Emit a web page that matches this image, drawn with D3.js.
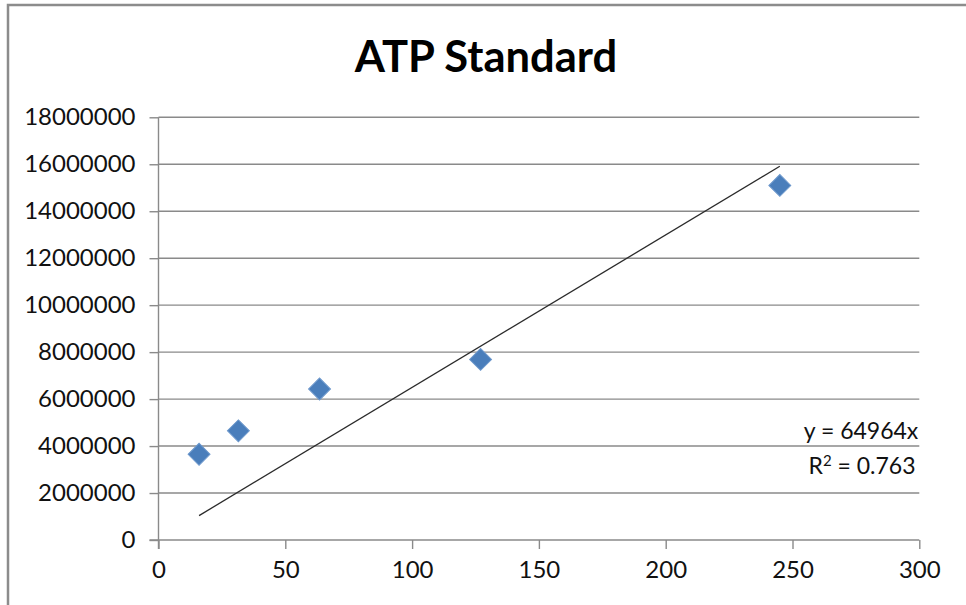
<!DOCTYPE html>
<html>
<head>
<meta charset="utf-8">
<script src="https://cdn.jsdelivr.net/npm/d3@7"></script>
<style>
  html, body { margin: 0; padding: 0; background: #fff; }
  svg { display: block; }
</style>
</head>
<body>
<svg id="chart" width="966" height="605"></svg>
<script>
// ATP standard curve: concentration vs. luminescence signal
const concentrations = [16, 31.5, 63.5, 127, 245];
const signals = [3650000, 4650000, 6430000, 7690000, 15100000];
const xTicks = [0, 50, 100, 150, 200, 250, 300];
const yTicks = [0, 2000000, 4000000, 6000000, 8000000, 10000000, 12000000, 14000000, 16000000, 18000000];
const trendSlope = 64964;
const trendR2 = "0.763";
const chartTitle = "ATP Standard";

const svg = d3.select("#chart");
const W = 966, H = 605;
const margin = { left: 158.5, right: W - 919.3, top: 117.3, bottom: H - 540 };

const x = d3.scaleLinear().domain([0, 300]).range([margin.left, W - margin.right]);
const y = d3.scaleLinear().domain([0, 18000000]).range([H - margin.bottom, margin.top]);

const gridColor = "#8a8a8a";
const font = "Lato, 'Open Sans', sans-serif";

// chart frame
svg.append("rect")
  .attr("x", 8).attr("y", 5)
  .attr("width", W + 20).attr("height", H + 20)
  .attr("fill", "#fff")
  .attr("stroke", "#8c8c8c").attr("stroke-width", 2.5);

// title
svg.append("text")
  .attr("x", 486).attr("y", 72)
  .attr("text-anchor", "middle")
  .attr("font-family", font)
  .attr("font-weight", 700)
  .attr("font-size", 43.5)
  .attr("fill", "#000")
  .text(chartTitle);

// horizontal gridlines
svg.append("g")
  .selectAll("line")
  .data(yTicks.filter(d => d > 0))
  .join("line")
  .attr("x1", x(0)).attr("x2", x(300))
  .attr("y1", d => y(d)).attr("y2", d => y(d))
  .attr("stroke", gridColor).attr("stroke-width", 1.4);

// y axis
const yAxis = svg.append("g")
  .attr("transform", `translate(${x(0)},0)`)
  .call(d3.axisLeft(y).tickValues(yTicks).tickFormat(d3.format("d")).tickSize(9).tickPadding(14));
// x axis
const xAxis = svg.append("g")
  .attr("transform", `translate(0,${y(0)})`)
  .call(d3.axisBottom(x).tickValues(xTicks).tickFormat(d3.format("d")).tickSize(9).tickPadding(12));

[yAxis, xAxis].forEach(g => {
  g.select(".domain").attr("stroke", gridColor).attr("stroke-width", 1.4);
  g.selectAll(".tick line").attr("stroke", gridColor).attr("stroke-width", 1.4);
  g.selectAll(".tick text")
    .attr("font-family", font)
    .attr("font-size", 24)
    .attr("fill", "#111");
});
// axis domain paths without outer ticks
yAxis.select(".domain").attr("d", `M0,${y(0) + 9}V${y(18000000)}`);
xAxis.select(".domain").attr("d", `M${x(0) - 9},0H${x(300)}`);

// linear trendline through origin, spanning the data range
const [xmin, xmax] = d3.extent(concentrations);
svg.append("line")
  .attr("x1", x(xmin)).attr("y1", y(trendSlope * xmin))
  .attr("x2", x(xmax)).attr("y2", y(trendSlope * xmax))
  .attr("stroke", "#2b2b2b").attr("stroke-width", 1.3);

// data markers (diamonds)
const diamond = d3.symbol(d3.symbolSquare, 240);
svg.append("g")
  .selectAll("path")
  .data(concentrations.map((c, i) => [c, signals[i]]))
  .join("path")
  .attr("d", diamond)
  .attr("transform", d => `translate(${x(d[0])},${y(d[1])}) rotate(45)`)
  .attr("fill", "#4a7ebb")
  .attr("stroke", "#6d98cc").attr("stroke-width", 1);

// trendline equation label
const eq = svg.append("text")
  .attr("text-anchor", "middle")
  .attr("font-family", font)
  .attr("font-size", 23)
  .attr("fill", "#111");
eq.append("tspan").attr("x", 861).attr("y", 439).text(`y = ${trendSlope}x`);
const r2 = eq.append("tspan").attr("x", 862).attr("y", 474);
r2.append("tspan").text("R");
r2.append("tspan").attr("dy", -8).attr("font-size", 15).text("2");
r2.append("tspan").attr("dy", 8).text(` = ${trendR2}`);
</script>
</body>
</html>
